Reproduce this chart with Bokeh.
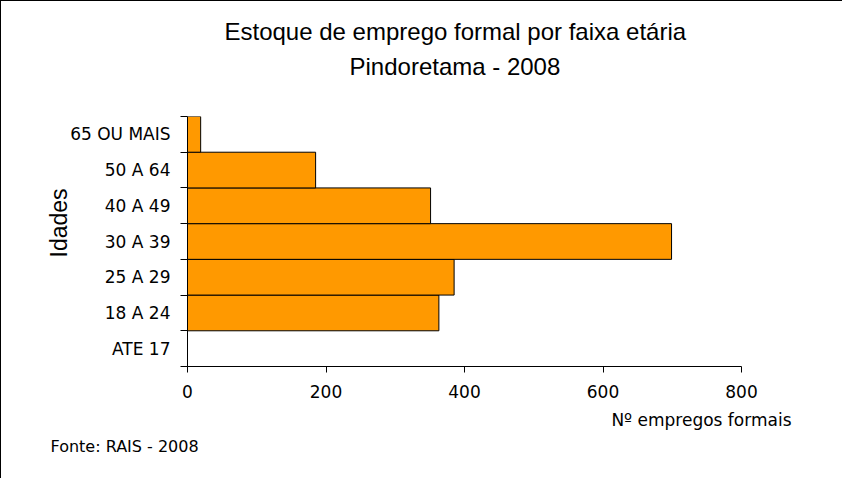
from bokeh.plotting import figure
from bokeh.models import Range1d, FixedTicker, Title
from bokeh.embed import file_html
from bokeh.resources import INLINE

# Data (bottom to top)
categories = ["ATE 17", "18 A 24", "25 A 29", "30 A 39", "40 A 49", "50 A 64", "65 OU MAIS"]
values = [0, 363, 385, 699, 351, 185, 19]
x_ticks = [0, 200, 400, 600, 800]

title_line1 = "Estoque de emprego formal por faixa etária"
title_line2 = "Pindoretama - 2008"
x_label = "Nº empregos formais"
y_label = "Idades"
source_text = "Fonte: RAIS - 2008"

positions = [i + 0.5 for i in range(len(categories))]

p = figure(width=842, height=478, output_backend="svg", toolbar_location=None,
           title=None,
           x_range=Range1d(0, 800), y_range=Range1d(0, len(categories)),
           min_border_left=186, min_border_right=102,
           min_border_top=115, min_border_bottom=113)
p.styles = {"border-left": "1px solid black", "border-top": "1px solid black"}
p.outline_line_color = None
p.xgrid.visible = False
p.ygrid.visible = False

p.hbar(y=positions, left=0, right=values, height=1.0,
       fill_color="#FF9900", line_color="black", line_width=1)

TICK_FONT = "DejaVu Sans"
TITLE_FONT = "Liberation Sans"

xa = p.xaxis[0]
xa.ticker = FixedTicker(ticks=x_ticks, minor_ticks=[])
xa.major_tick_out = 6
xa.major_tick_in = 0
xa.minor_tick_line_color = None
xa.axis_line_color = "black"
xa.major_tick_line_color = "black"
xa.major_label_text_font = TICK_FONT
xa.major_label_text_font_size = "17px"
xa.major_label_text_color = "black"
xa.major_label_standoff = 12

ya = p.yaxis[0]
ya.ticker = FixedTicker(ticks=positions, minor_ticks=list(range(len(categories) + 1)))
ya.major_label_overrides = {pos: cat for pos, cat in zip(positions, categories)}
ya.major_tick_line_color = None
ya.major_tick_out = 7
ya.major_tick_in = 0
ya.minor_tick_out = 7
ya.minor_tick_in = 0
ya.minor_tick_line_color = "black"
ya.axis_line_color = "black"
ya.major_label_text_font = TICK_FONT
ya.major_label_text_font_size = "17px"
ya.major_label_text_color = "black"
ya.major_label_standoff = 10

# above: spacer, then the two title lines (first added = nearest the plot)
p.add_layout(Title(text=" ", standoff=29, text_font_size="2px"), "above")
p.add_layout(Title(text=title_line2, align="left", offset=162, standoff=8,
                   text_font=TITLE_FONT, text_font_size="24px",
                   text_font_style="normal", text_color="black"), "above")
p.add_layout(Title(text=title_line1, align="left", offset=37, standoff=4,
                   text_font=TITLE_FONT, text_font_size="24px",
                   text_font_style="normal", text_color="black"), "above")

# below: x label (right) then source (left)
p.add_layout(Title(text=x_label, align="right", offset=-50, standoff=14,
                   text_font=TICK_FONT, text_font_size="17px",
                   text_font_style="normal", text_color="black"), "below")
p.add_layout(Title(text=source_text, align="left", offset=-137, standoff=-4,
                   text_font=TICK_FONT, text_font_size="16px",
                   text_font_style="normal", text_color="black"), "below")

# left: y label
p.add_layout(Title(text=y_label, align="left", offset=109, standoff=-8,
                   text_font=TITLE_FONT, text_font_size="23px",
                   text_font_style="normal", text_color="black"), "left")

open("out.html", "w").write(file_html(p, INLINE))
